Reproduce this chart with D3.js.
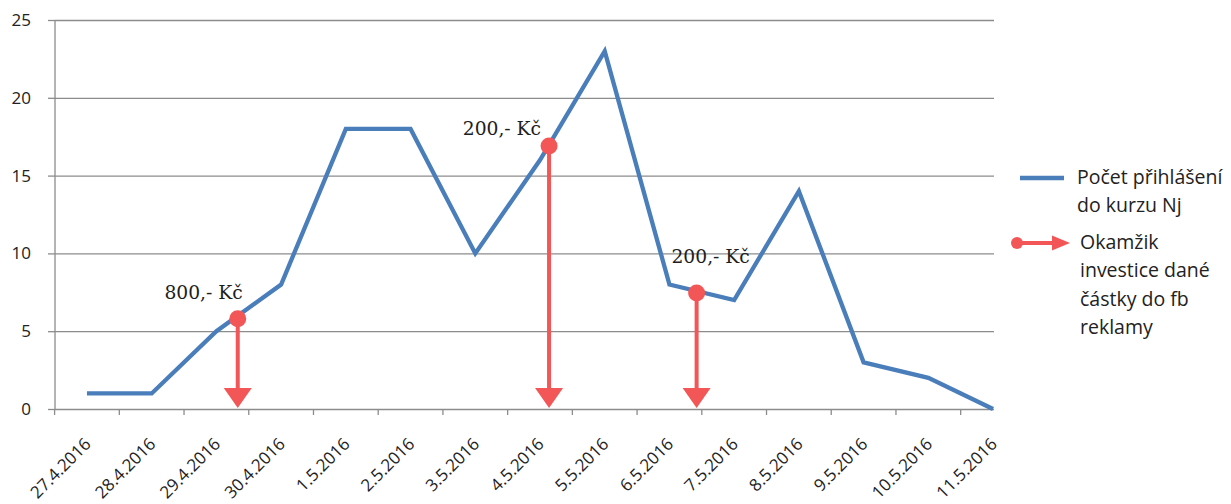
<!DOCTYPE html>
<html>
<head>
<meta charset="utf-8">
<script src="https://cdn.jsdelivr.net/npm/d3@7"></script>
<style>
  html, body { margin: 0; padding: 0; background: #fff; }
  svg { display: block; }
</style>
</head>
<body>
<svg id="chart" width="1231" height="504"></svg>
<script>
// Daily sign-ups to the course
const dates = ["27.4.2016", "28.4.2016", "29.4.2016", "30.4.2016", "1.5.2016", "2.5.2016",
  "3.5.2016", "4.5.2016", "5.5.2016", "6.5.2016", "7.5.2016", "8.5.2016",
  "9.5.2016", "10.5.2016", "11.5.2016"];
const signups = [1, 1, 5, 8, 18, 18, 10, 16, 23, 8, 7, 14, 3, 2, 0];
const yTicks = [0, 5, 10, 15, 20, 25];

// Facebook ad investments: position along the date axis (index + fraction of a day)
const adLabels = ["800,- Kč", "200,- Kč", "200,- Kč"];
const adPositions = [2.33, 7.14, 9.42];
const adValues = [5.8, 16.9, 7.45];

// Label offsets relative to each marker dot (layout only)
const adLabelOffsets = [[5, -20], [-8, -11], [14, -30]];
const adLabelAnchors = ["end", "end", "middle"];

const legendSeries = ["Počet přihlášení", "do kurzu Nj"];
const legendAds = ["Okamžik", "investice dané", "částky do fb", "reklamy"];

const blue = "#4A7EBB";
const red = "#F35656";
const grid = "#8C8C8C";
const sans = "'Open Sans', 'DejaVu Sans', sans-serif";

const svg = d3.select("#chart");

const plotLeft = 55, plotRightEdge = 994, yTop = 20, yBottom = 409;
const x = d3.scaleBand().domain(dates).range([54.6, 1025.4]).padding(0);
const xc = d => x(d) + x.bandwidth() / 2;
const xPos = p => x(dates[0]) + x.bandwidth() / 2 + p * x.step();
const y = d3.scaleLinear().domain([0, 25]).range([yBottom, yTop]);

// Horizontal gridlines with left tick marks
const yAxis = d3.axisLeft(y).tickValues(yTicks).tickSize(-(plotRightEdge - plotLeft)).tickPadding(25);
const gy = svg.append("g").attr("transform", `translate(${plotLeft},0)`).call(yAxis);
gy.select(".domain").remove();
gy.selectAll(".tick line").attr("stroke", grid).attr("stroke-width", 1.3);
gy.selectAll(".tick").append("line")
  .attr("x1", -7).attr("x2", 0).attr("stroke", grid).attr("stroke-width", 1.3);
gy.selectAll(".tick text")
  .attr("fill", "#222").attr("font-family", sans).attr("font-size", 17)
  .attr("text-anchor", "end").attr("x", -24);

// Vertical axis line
svg.append("line")
  .attr("x1", plotLeft).attr("x2", plotLeft)
  .attr("y1", y(25)).attr("y2", y(0))
  .attr("stroke", grid).attr("stroke-width", 1.3);

// Category boundary ticks under the x axis
const boundaries = dates.map(d => x(d)).filter(v => v <= plotRightEdge);
svg.append("g").selectAll("line").data(boundaries).join("line")
  .attr("x1", d => d).attr("x2", d => d)
  .attr("y1", yBottom).attr("y2", yBottom + 6)
  .attr("stroke", grid).attr("stroke-width", 1.3);

// Rotated date labels
svg.append("g").selectAll("text").data(dates).join("text")
  .attr("transform", d => `translate(${xc(d) + 5},${yBottom + 36}) rotate(-45)`)
  .attr("text-anchor", "end")
  .attr("font-family", sans).attr("font-size", 17).attr("fill", "#222")
  .text(d => d);

// Sign-up line
const line = d3.line().x((d, i) => xc(dates[i])).y(d => y(d));
svg.append("path").datum(signups)
  .attr("d", line)
  .attr("fill", "none").attr("stroke", blue).attr("stroke-width", 4.3)
  .attr("stroke-linejoin", "miter");

// Ad investment markers: dot on the line with an arrow down to the axis
const arrowHead = (cx, tipY, w, h) =>
  `M${cx - w / 2},${tipY - h} L${cx + w / 2},${tipY - h} L${cx},${tipY} Z`;

const ads = adLabels.map((label, i) => ({
  label, pos: adPositions[i], value: adValues[i],
  off: adLabelOffsets[i], anchor: adLabelAnchors[i]
}));

const ga = svg.append("g").selectAll("g").data(ads).join("g");
ga.append("line")
  .attr("x1", d => xPos(d.pos)).attr("x2", d => xPos(d.pos))
  .attr("y1", d => y(d.value)).attr("y2", yBottom - 18)
  .attr("stroke", red).attr("stroke-width", 4);
ga.append("path")
  .attr("d", d => arrowHead(xPos(d.pos), yBottom - 1, 28, 20))
  .attr("fill", red);
ga.append("circle")
  .attr("cx", d => xPos(d.pos)).attr("cy", d => y(d.value)).attr("r", 8.5)
  .attr("fill", red);
ga.append("text")
  .attr("x", d => xPos(d.pos) + d.off[0]).attr("y", d => y(d.value) + d.off[1])
  .attr("text-anchor", d => d.anchor)
  .attr("font-family", "'DejaVu Serif', serif").attr("font-size", 18.7)
  .attr("fill", "#1e1e1e")
  .text(d => d.label);

// Legend
const lg = svg.append("g");
lg.append("line").attr("x1", 1020).attr("x2", 1064).attr("y1", 178).attr("y2", 178)
  .attr("stroke", blue).attr("stroke-width", 4.3);
lg.selectAll("text.s").data(legendSeries).join("text").attr("class", "s")
  .attr("x", 1077).attr("y", (d, i) => 184 + i * 28)
  .attr("font-family", sans).attr("font-size", 19.5).attr("fill", "#222")
  .text(d => d);

lg.append("line").attr("x1", 1017).attr("x2", 1054).attr("y1", 243).attr("y2", 243)
  .attr("stroke", red).attr("stroke-width", 4);
lg.append("circle").attr("cx", 1017).attr("cy", 243).attr("r", 6).attr("fill", red);
lg.append("path").attr("d", "M1052,235.5 L1070,243 L1052,250.5 Z").attr("fill", red);
lg.selectAll("text.a").data(legendAds).join("text").attr("class", "a")
  .attr("x", 1080).attr("y", (d, i) => 249 + i * 28.3)
  .attr("font-family", sans).attr("font-size", 19.5).attr("fill", "#222")
  .text(d => d);
</script>
</body>
</html>
